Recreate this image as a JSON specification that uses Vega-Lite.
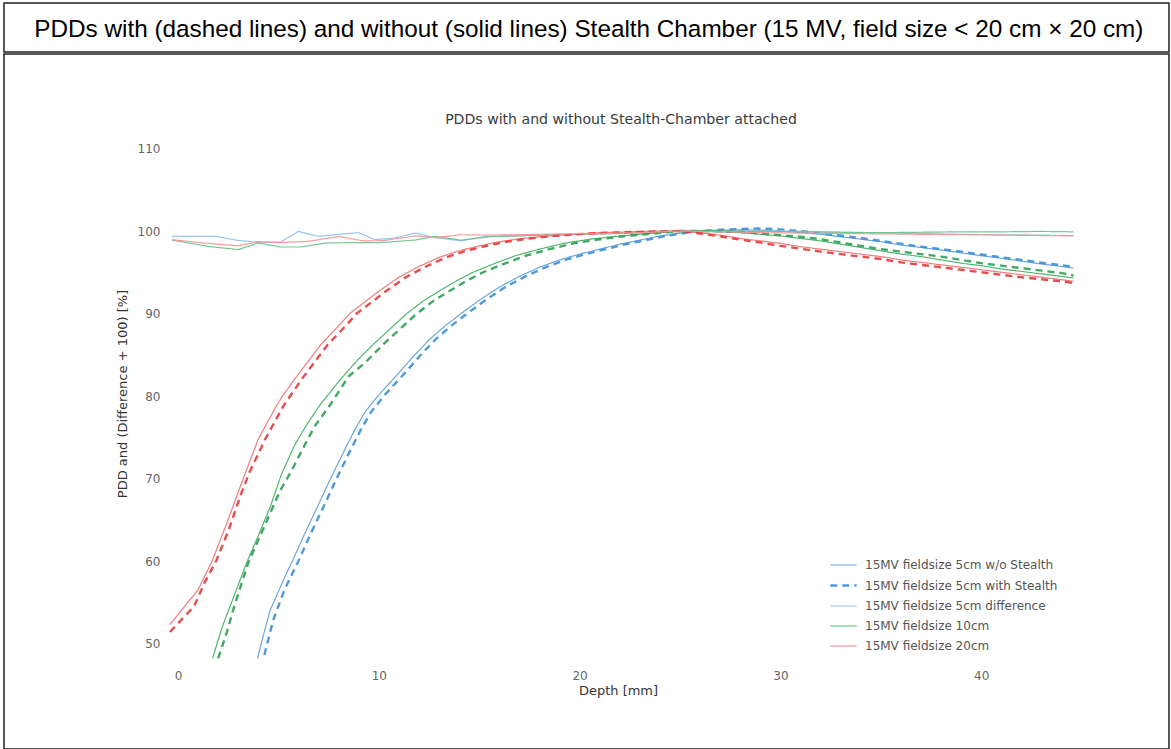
{
  "$schema": "https://vega.github.io/schema/vega-lite/v6.json",
  "padding": {"left": 3, "top": 2, "right": 3, "bottom": 0},
  "spacing": 0,
  "config": {
    "view": {"stroke": "#222", "strokeWidth": 1.5},
    "font": "DejaVu Sans",
    "title": {"font": "DejaVu Sans", "fontWeight": "normal"}
  },
  "vconcat": [
    {
      "width": 1165,
      "height": 49,
      "data": {"values": [{"t": "PDDs with (dashed lines) and without (solid lines) Stealth Chamber (15 MV, field size < 20 cm × 20 cm)"}]},
      "mark": {"type": "text", "font": "Liberation Sans", "fontSize": 24.3, "color": "#000", "baseline": "middle", "align": "center"},
      "encoding": {
        "text": {"field": "t", "type": "nominal"},
        "x": {"datum": 0.502, "type": "quantitative", "scale": {"domain": [0, 1]}, "axis": null},
        "y": {"datum": 0.44, "type": "quantitative", "scale": {"domain": [0, 1]}, "axis": null}
      }
    },
    {
      "width": 1165,
      "height": 695,
      "title": {"text": "PDDs with and without Stealth-Chamber attached", "font": "DejaVu Sans", "fontSize": 14.1, "color": "#3a3a3a", "anchor": "middle", "dx": 34.5, "offset": -80, "baseline": "middle"},
      "encoding": {
        "x": {"field": "d", "type": "quantitative", "scale": {"domain": [-8.665, 49.35], "nice": false, "zero": false},
          "axis": {"values": [0, 10, 20, 30, 40], "offset": -84, "domain": false, "ticks": false, "tickSize": 0, "grid": false, "labelPadding": 5, "labelFontSize": 12, "labelColor": "#666", "labelFont": "DejaVu Sans", "title": "Depth [mm]", "titleFont": "DejaVu Sans", "titleFontSize": 13, "titleFontWeight": "normal", "titleColor": "#333", "titleX": 614, "titleY": 25, "titleBaseline": "middle", "titleAlign": "center"}},
        "y": {"field": "v", "type": "quantitative", "scale": {"domain": [37.212, 121.455], "nice": false, "zero": false},
          "axis": {"values": [50, 60, 70, 80, 90, 100, 110], "offset": -158, "domain": false, "ticks": false, "tickSize": 0, "grid": false, "labelPadding": 2, "labelFontSize": 12, "labelColor": "#666", "labelFont": "DejaVu Sans", "title": "PDD and (Difference + 100) [%]", "titleFont": "DejaVu Sans", "titleFontSize": 13, "titleFontWeight": "normal", "titleColor": "#333", "titleX": -40, "titleY": 339.5, "titleAngle": -90, "titleAlign": "center", "titleBaseline": "middle"}}
      },
      "layer": [
        {
          "data": {"values": [{"v": 50}, {"v": 60}, {"v": 70}, {"v": 80}, {"v": 90}, {"v": 100}, {"v": 110}]},
          "mark": {"type": "rule", "color": "#cfcfcf", "strokeDash": [1, 2], "strokeWidth": 1},
          "encoding": {
            "x": {"datum": -0.5, "type": "quantitative"},
            "x2": {"datum": 44.6}
          }
        },
        {
          "data": {"values": [{"d": 0}, {"d": 10}, {"d": 20}, {"d": 30}, {"d": 40}]},
          "mark": {"type": "rule", "color": "#cfcfcf", "strokeDash": [1, 2], "strokeWidth": 1},
          "encoding": {
            "y": {"datum": 47.8, "type": "quantitative"},
            "y2": {"datum": 111.9}
          }
        },
        {
          "data": {"values": [
            {"s":"b0","d":3.96,"v":48.2},{"s":"b0","d":4.25,"v":51},{"s":"b0","d":4.6,"v":54.1},{"s":"b0","d":5.4,"v":58.5},{"s":"b0","d":5.7,"v":60},{"s":"b0","d":6.25,"v":63},{"s":"b0","d":6.95,"v":66.6},{"s":"b0","d":7.6,"v":70},{"s":"b0","d":8.2,"v":73},{"s":"b0","d":8.8,"v":75.9},{"s":"b0","d":9.3,"v":78},{"s":"b0","d":9.95,"v":80},{"s":"b0","d":11,"v":82.8},{"s":"b0","d":11.8,"v":85},{"s":"b0","d":12.5,"v":86.8},{"s":"b0","d":13.3,"v":88.5},{"s":"b0","d":14.1,"v":90},{"s":"b0","d":15,"v":91.6},{"s":"b0","d":16,"v":93.2},{"s":"b0","d":17,"v":94.5},{"s":"b0","d":18,"v":95.6},{"s":"b0","d":19,"v":96.5},{"s":"b0","d":20,"v":97.2},{"s":"b0","d":21,"v":97.8},{"s":"b0","d":22,"v":98.4},{"s":"b0","d":23,"v":98.9},{"s":"b0","d":24,"v":99.4},{"s":"b0","d":25,"v":99.75},{"s":"b0","d":26,"v":100},{"s":"b0","d":27,"v":100.1},{"s":"b0","d":28,"v":100.15},{"s":"b0","d":29,"v":100.1},{"s":"b0","d":30,"v":100},{"s":"b0","d":31,"v":99.8},{"s":"b0","d":32,"v":99.6},{"s":"b0","d":33,"v":99.3},{"s":"b0","d":34,"v":99},{"s":"b0","d":35,"v":98.7},{"s":"b0","d":36,"v":98.3},{"s":"b0","d":37,"v":98},{"s":"b0","d":38,"v":97.7},{"s":"b0","d":39,"v":97.35},{"s":"b0","d":40,"v":97},{"s":"b0","d":41,"v":96.7},{"s":"b0","d":42,"v":96.35},{"s":"b0","d":43,"v":96},{"s":"b0","d":44,"v":95.7},{"s":"b0","d":44.6,"v":95.5},
            {"s":"b1","d":4.3,"v":48.6},{"s":"b1","d":4.75,"v":52.9},{"s":"b1","d":5.3,"v":56.5},{"s":"b1","d":6,"v":60},{"s":"b1","d":6.55,"v":63},{"s":"b1","d":7.25,"v":66.6},{"s":"b1","d":7.9,"v":70},{"s":"b1","d":8.5,"v":73},{"s":"b1","d":9.1,"v":75.9},{"s":"b1","d":9.6,"v":78},{"s":"b1","d":10.25,"v":80},{"s":"b1","d":11.3,"v":82.8},{"s":"b1","d":12.1,"v":85},{"s":"b1","d":12.8,"v":86.8},{"s":"b1","d":13.6,"v":88.5},{"s":"b1","d":14.4,"v":90},{"s":"b1","d":15.3,"v":91.6},{"s":"b1","d":16.3,"v":93.2},{"s":"b1","d":17.3,"v":94.5},{"s":"b1","d":18.3,"v":95.6},{"s":"b1","d":19.3,"v":96.5},{"s":"b1","d":20.3,"v":97.2},{"s":"b1","d":21.3,"v":97.8},{"s":"b1","d":22.3,"v":98.4},{"s":"b1","d":23.3,"v":98.9},{"s":"b1","d":24.3,"v":99.4},{"s":"b1","d":25.2,"v":99.75},{"s":"b1","d":26,"v":100},{"s":"b1","d":27,"v":100.15},{"s":"b1","d":28,"v":100.25},{"s":"b1","d":29,"v":100.3},{"s":"b1","d":30,"v":100.2},{"s":"b1","d":31,"v":100},{"s":"b1","d":32,"v":99.75},{"s":"b1","d":33,"v":99.45},{"s":"b1","d":34,"v":99.15},{"s":"b1","d":35,"v":98.8},{"s":"b1","d":36,"v":98.45},{"s":"b1","d":37,"v":98.1},{"s":"b1","d":38,"v":97.8},{"s":"b1","d":39,"v":97.5},{"s":"b1","d":40,"v":97.15},{"s":"b1","d":41,"v":96.8},{"s":"b1","d":42,"v":96.5},{"s":"b1","d":43,"v":96.15},{"s":"b1","d":44,"v":95.85},{"s":"b1","d":44.6,"v":95.65},
            {"s":"bd","d":-0.3,"v":99.35},{"s":"bd","d":1,"v":99.35},{"s":"bd","d":1.9,"v":99.35},{"s":"bd","d":3,"v":98.85},{"s":"bd","d":4,"v":98.65},{"s":"bd","d":5.1,"v":98.65},{"s":"bd","d":6,"v":99.95},{"s":"bd","d":7,"v":99.35},{"s":"bd","d":8,"v":99.6},{"s":"bd","d":9,"v":99.8},{"s":"bd","d":9.8,"v":98.95},{"s":"bd","d":10.8,"v":99.15},{"s":"bd","d":11.8,"v":99.75},{"s":"bd","d":12.8,"v":99.2},{"s":"bd","d":14.1,"v":98.8},{"s":"bd","d":15.2,"v":99.3},{"s":"bd","d":16.5,"v":99.45},{"s":"bd","d":18,"v":99.5},{"s":"bd","d":20,"v":99.6},{"s":"bd","d":22,"v":99.7},{"s":"bd","d":24,"v":99.85},{"s":"bd","d":25,"v":100},{"s":"bd","d":27,"v":99.95},{"s":"bd","d":29,"v":100.05},{"s":"bd","d":31,"v":99.95},{"s":"bd","d":33,"v":99.85},{"s":"bd","d":35,"v":99.75},{"s":"bd","d":37,"v":99.7},{"s":"bd","d":39,"v":99.6},{"s":"bd","d":41,"v":99.55},{"s":"bd","d":43,"v":99.5},{"s":"bd","d":44.6,"v":99.45},
            {"s":"g0","d":1.72,"v":48.2},{"s":"g0","d":2.2,"v":52},{"s":"g0","d":2.97,"v":56.9},{"s":"g0","d":3.45,"v":60},{"s":"g0","d":3.9,"v":62.5},{"s":"g0","d":4.6,"v":66.6},{"s":"g0","d":5.15,"v":70.5},{"s":"g0","d":5.8,"v":74},{"s":"g0","d":6.4,"v":76.5},{"s":"g0","d":7.1,"v":79},{"s":"g0","d":7.95,"v":81.6},{"s":"g0","d":8.8,"v":84},{"s":"g0","d":9.7,"v":86.2},{"s":"g0","d":10.5,"v":88},{"s":"g0","d":11.4,"v":90},{"s":"g0","d":12.2,"v":91.5},{"s":"g0","d":13,"v":92.7},{"s":"g0","d":13.9,"v":94},{"s":"g0","d":14.7,"v":95},{"s":"g0","d":15.7,"v":96},{"s":"g0","d":16.8,"v":97},{"s":"g0","d":18,"v":97.8},{"s":"g0","d":19.2,"v":98.5},{"s":"g0","d":20.5,"v":99},{"s":"g0","d":22,"v":99.4},{"s":"g0","d":23.5,"v":99.7},{"s":"g0","d":25,"v":100},{"s":"g0","d":26,"v":100},{"s":"g0","d":27,"v":99.9},{"s":"g0","d":28,"v":99.8},{"s":"g0","d":29,"v":99.6},{"s":"g0","d":30,"v":99.4},{"s":"g0","d":31,"v":99.1},{"s":"g0","d":32,"v":98.8},{"s":"g0","d":33,"v":98.4},{"s":"g0","d":34,"v":98},{"s":"g0","d":35,"v":97.6},{"s":"g0","d":36,"v":97.2},{"s":"g0","d":37,"v":96.9},{"s":"g0","d":38,"v":96.5},{"s":"g0","d":39,"v":96.1},{"s":"g0","d":40,"v":95.8},{"s":"g0","d":41,"v":95.4},{"s":"g0","d":42,"v":95.1},{"s":"g0","d":43,"v":94.8},{"s":"g0","d":44,"v":94.5},{"s":"g0","d":44.6,"v":94.3},
            {"s":"g1","d":2,"v":48.2},{"s":"g1","d":2.45,"v":51.5},{"s":"g1","d":2.8,"v":54.5},{"s":"g1","d":3.5,"v":59.8},{"s":"g1","d":4.3,"v":64.2},{"s":"g1","d":5.1,"v":68.6},{"s":"g1","d":5.6,"v":70.7},{"s":"g1","d":6.3,"v":74},{"s":"g1","d":6.8,"v":76.3},{"s":"g1","d":7.6,"v":79},{"s":"g1","d":8.5,"v":82.4},{"s":"g1","d":9.3,"v":84},{"s":"g1","d":10.2,"v":86.2},{"s":"g1","d":11,"v":88},{"s":"g1","d":11.9,"v":90},{"s":"g1","d":12.7,"v":91.5},{"s":"g1","d":13.5,"v":92.7},{"s":"g1","d":14.4,"v":94},{"s":"g1","d":15.2,"v":95},{"s":"g1","d":16.2,"v":96},{"s":"g1","d":17.3,"v":97},{"s":"g1","d":18.5,"v":97.8},{"s":"g1","d":19.7,"v":98.5},{"s":"g1","d":21,"v":99},{"s":"g1","d":22.3,"v":99.4},{"s":"g1","d":23.7,"v":99.7},{"s":"g1","d":25,"v":100},{"s":"g1","d":26,"v":100},{"s":"g1","d":27,"v":99.95},{"s":"g1","d":28,"v":99.9},{"s":"g1","d":29,"v":99.7},{"s":"g1","d":30,"v":99.5},{"s":"g1","d":31,"v":99.3},{"s":"g1","d":32,"v":99},{"s":"g1","d":33,"v":98.6},{"s":"g1","d":34,"v":98.2},{"s":"g1","d":35,"v":97.8},{"s":"g1","d":36,"v":97.5},{"s":"g1","d":37,"v":97.2},{"s":"g1","d":38,"v":96.9},{"s":"g1","d":39,"v":96.5},{"s":"g1","d":40,"v":96.1},{"s":"g1","d":41,"v":95.8},{"s":"g1","d":42,"v":95.5},{"s":"g1","d":43,"v":95.2},{"s":"g1","d":44,"v":94.9},{"s":"g1","d":44.6,"v":94.6},
            {"s":"gd","d":-0.3,"v":98.9},{"s":"gd","d":1.6,"v":98.1},{"s":"gd","d":3,"v":97.75},{"s":"gd","d":4,"v":98.55},{"s":"gd","d":5.1,"v":98.06},{"s":"gd","d":6.1,"v":98.06},{"s":"gd","d":7.4,"v":98.55},{"s":"gd","d":8.8,"v":98.6},{"s":"gd","d":10.1,"v":98.6},{"s":"gd","d":11.8,"v":98.9},{"s":"gd","d":12.8,"v":99.35},{"s":"gd","d":14.1,"v":98.9},{"s":"gd","d":15.5,"v":99.3},{"s":"gd","d":17,"v":99.4},{"s":"gd","d":19,"v":99.55},{"s":"gd","d":21,"v":99.65},{"s":"gd","d":23,"v":99.8},{"s":"gd","d":25,"v":100},{"s":"gd","d":27,"v":100},{"s":"gd","d":29,"v":99.95},{"s":"gd","d":31,"v":99.9},{"s":"gd","d":33,"v":99.85},{"s":"gd","d":35,"v":99.8},{"s":"gd","d":37,"v":99.85},{"s":"gd","d":39,"v":99.9},{"s":"gd","d":41,"v":99.9},{"s":"gd","d":43,"v":99.95},{"s":"gd","d":44.6,"v":99.9},
            {"s":"r0","d":-0.4,"v":52.3},{"s":"r0","d":0.3,"v":54.4},{"s":"r0","d":1,"v":56.5},{"s":"r0","d":1.7,"v":60},{"s":"r0","d":2.4,"v":64.4},{"s":"r0","d":3.25,"v":70},{"s":"r0","d":4,"v":74.8},{"s":"r0","d":4.9,"v":78.8},{"s":"r0","d":5.2,"v":80},{"s":"r0","d":5.8,"v":82},{"s":"r0","d":7.1,"v":86.2},{"s":"r0","d":8,"v":88.5},{"s":"r0","d":8.55,"v":90},{"s":"r0","d":9.2,"v":91.2},{"s":"r0","d":10,"v":92.7},{"s":"r0","d":11,"v":94.4},{"s":"r0","d":12,"v":95.7},{"s":"r0","d":13,"v":96.8},{"s":"r0","d":14,"v":97.6},{"s":"r0","d":15,"v":98.2},{"s":"r0","d":16,"v":98.7},{"s":"r0","d":17,"v":99.05},{"s":"r0","d":18,"v":99.3},{"s":"r0","d":19,"v":99.5},{"s":"r0","d":20,"v":99.65},{"s":"r0","d":21,"v":99.8},{"s":"r0","d":22.5,"v":99.9},{"s":"r0","d":24,"v":100},{"s":"r0","d":25,"v":100},{"s":"r0","d":26,"v":99.8},{"s":"r0","d":27,"v":99.5},{"s":"r0","d":28,"v":99.1},{"s":"r0","d":29,"v":98.8},{"s":"r0","d":30,"v":98.5},{"s":"r0","d":31,"v":98.1},{"s":"r0","d":32,"v":97.8},{"s":"r0","d":33,"v":97.5},{"s":"r0","d":34,"v":97.2},{"s":"r0","d":35,"v":96.9},{"s":"r0","d":36,"v":96.5},{"s":"r0","d":37,"v":96.2},{"s":"r0","d":38,"v":95.9},{"s":"r0","d":39,"v":95.6},{"s":"r0","d":40,"v":95.3},{"s":"r0","d":41,"v":95},{"s":"r0","d":42,"v":94.7},{"s":"r0","d":43,"v":94.4},{"s":"r0","d":44,"v":94.1},{"s":"r0","d":44.6,"v":93.9},
            {"s":"r1","d":-0.4,"v":51.4},{"s":"r1","d":0.8,"v":54.5},{"s":"r1","d":1.35,"v":57.5},{"s":"r1","d":1.9,"v":60},{"s":"r1","d":2.5,"v":63.6},{"s":"r1","d":3.15,"v":68.2},{"s":"r1","d":3.55,"v":70.7},{"s":"r1","d":4.35,"v":74.8},{"s":"r1","d":5.25,"v":78.8},{"s":"r1","d":6.15,"v":82},{"s":"r1","d":7.45,"v":86.2},{"s":"r1","d":8.35,"v":88.5},{"s":"r1","d":8.9,"v":90},{"s":"r1","d":9.55,"v":91.2},{"s":"r1","d":10.35,"v":92.7},{"s":"r1","d":11.35,"v":94.4},{"s":"r1","d":12.35,"v":95.7},{"s":"r1","d":13.35,"v":96.8},{"s":"r1","d":14.35,"v":97.6},{"s":"r1","d":15.35,"v":98.2},{"s":"r1","d":16.35,"v":98.7},{"s":"r1","d":17.35,"v":99.05},{"s":"r1","d":18.5,"v":99.35},{"s":"r1","d":19.5,"v":99.55},{"s":"r1","d":20.5,"v":99.7},{"s":"r1","d":21.5,"v":99.8},{"s":"r1","d":23,"v":99.9},{"s":"r1","d":25,"v":100},{"s":"r1","d":26,"v":99.7},{"s":"r1","d":27,"v":99.35},{"s":"r1","d":28,"v":98.95},{"s":"r1","d":29,"v":98.6},{"s":"r1","d":30,"v":98.2},{"s":"r1","d":31,"v":97.85},{"s":"r1","d":32,"v":97.5},{"s":"r1","d":33,"v":97.2},{"s":"r1","d":34,"v":96.9},{"s":"r1","d":35,"v":96.6},{"s":"r1","d":36,"v":96.2},{"s":"r1","d":37,"v":95.9},{"s":"r1","d":38,"v":95.6},{"s":"r1","d":39,"v":95.3},{"s":"r1","d":40,"v":95},{"s":"r1","d":41,"v":94.7},{"s":"r1","d":42,"v":94.4},{"s":"r1","d":43,"v":94.15},{"s":"r1","d":44,"v":93.9},{"s":"r1","d":44.6,"v":93.7},
            {"s":"rd","d":-0.3,"v":98.95},{"s":"rd","d":1.3,"v":98.55},{"s":"rd","d":3,"v":98.2},{"s":"rd","d":4,"v":98.7},{"s":"rd","d":5.1,"v":98.6},{"s":"rd","d":6.5,"v":98.75},{"s":"rd","d":8,"v":99.35},{"s":"rd","d":9.2,"v":98.8},{"s":"rd","d":10.2,"v":98.83},{"s":"rd","d":11.8,"v":99.4},{"s":"rd","d":12.8,"v":99.2},{"s":"rd","d":14.1,"v":99.55},{"s":"rd","d":15.5,"v":99.5},{"s":"rd","d":17,"v":99.55},{"s":"rd","d":19,"v":99.65},{"s":"rd","d":21,"v":99.7},{"s":"rd","d":23,"v":99.8},{"s":"rd","d":25,"v":100},{"s":"rd","d":27,"v":99.9},{"s":"rd","d":29,"v":99.8},{"s":"rd","d":31,"v":99.75},{"s":"rd","d":33,"v":99.7},{"s":"rd","d":35,"v":99.65},{"s":"rd","d":37,"v":99.6},{"s":"rd","d":39,"v":99.55},{"s":"rd","d":41,"v":99.5},{"s":"rd","d":43,"v":99.45},{"s":"rd","d":44.6,"v":99.4}
          ]},
          "mark": {"type": "line", "opacity": 0.9},
          "encoding": {
            "color": {"field": "s", "type": "nominal",
              "scale": {"domain": ["b0","b1","bd","g0","g1","gd","r0","r1","rd"], "range": ["#5b9fd9","#3d8fd6","#8dbfe8","#3fae63","#2f9e55","#6cc089","#ef6f6f","#e23b3b","#f39595"]},
              "legend": {"orient": "none", "legendX": 825, "legendY": 548, "title": null, "values": ["b0","b1","bd","g0","r0"], "symbolType": "stroke", "symbolSize": 700, "labelFontSize": 12, "labelColor": "#555", "labelFont": "DejaVu Sans", "labelOffset": 7, "labelLimit": 400, "rowPadding": -7.5,
                "labelExpr": "datum.value == 'b0' ? '15MV fieldsize 5cm w/o Stealth' : datum.value == 'b1' ? '15MV fieldsize 5cm with Stealth' : datum.value == 'bd' ? '15MV fieldsize 5cm difference' : datum.value == 'g0' ? '15MV fieldsize 10cm' : '15MV fieldsize 20cm'"}},
            "strokeDash": {"field": "s", "type": "nominal",
              "scale": {"domain": ["b0","b1","bd","g0","g1","gd","r0","r1","rd"], "range": [[1,0],[7,5],[1,0],[1,0],[7,5],[1,0],[1,0],[7,5],[1,0]]},
              "legend": {"orient": "none", "legendX": 825, "legendY": 548, "title": null, "values": ["b0","b1","bd","g0","r0"], "symbolType": "stroke", "symbolSize": 700, "labelFontSize": 12, "labelColor": "#555", "labelFont": "DejaVu Sans", "labelOffset": 7, "labelLimit": 400, "rowPadding": -7.5,
                "labelExpr": "datum.value == 'b0' ? '15MV fieldsize 5cm w/o Stealth' : datum.value == 'b1' ? '15MV fieldsize 5cm with Stealth' : datum.value == 'bd' ? '15MV fieldsize 5cm difference' : datum.value == 'g0' ? '15MV fieldsize 10cm' : '15MV fieldsize 20cm'"}},
            "strokeWidth": {"field": "s", "type": "nominal",
              "scale": {"type": "ordinal", "domain": ["b0","b1","bd","g0","g1","gd","r0","r1","rd"], "range": [1.2,2.4,1.2,1.2,2.4,1.2,1.2,2.4,1.2]},
              "legend": {"orient": "none", "legendX": 825, "legendY": 548, "title": null, "values": ["b0","b1","bd","g0","r0"], "symbolType": "stroke", "symbolSize": 700, "labelFontSize": 12, "labelColor": "#555", "labelFont": "DejaVu Sans", "labelOffset": 7, "labelLimit": 400, "rowPadding": -7.5,
                "labelExpr": "datum.value == 'b0' ? '15MV fieldsize 5cm w/o Stealth' : datum.value == 'b1' ? '15MV fieldsize 5cm with Stealth' : datum.value == 'bd' ? '15MV fieldsize 5cm difference' : datum.value == 'g0' ? '15MV fieldsize 10cm' : '15MV fieldsize 20cm'"}}
          }
        }
      ]
    }
  ]
}
